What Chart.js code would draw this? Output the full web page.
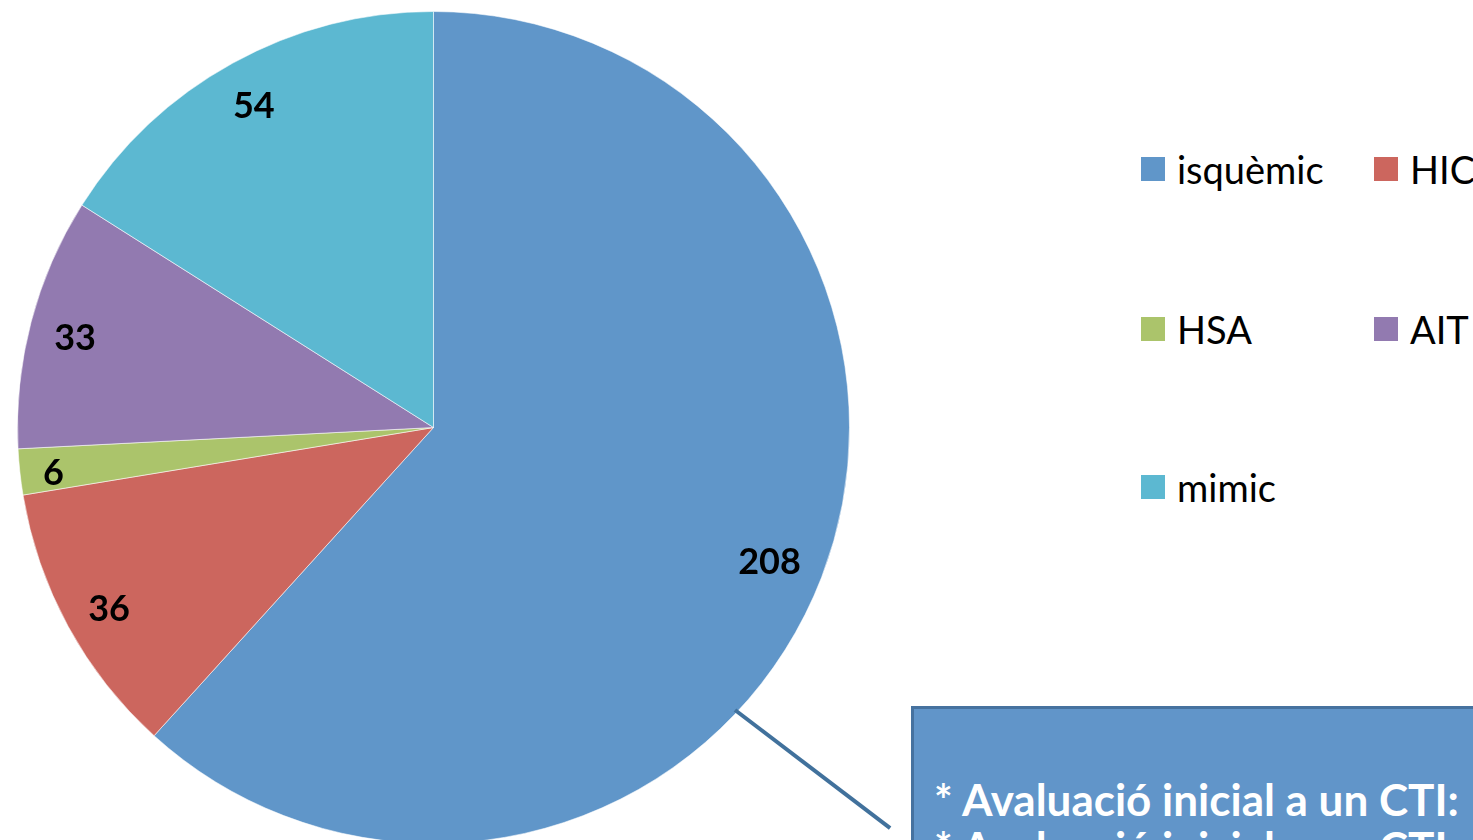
<!DOCTYPE html>
<html>
<head>
<meta charset="utf-8">
<script src="https://cdn.jsdelivr.net/npm/chart.js@4.4.1/dist/chart.umd.min.js"></script>
<style>
  html, body { margin: 0; padding: 0; width: 1473px; height: 840px; overflow: hidden; background: #fff; }
  #pieWrap { position: absolute; left: 17px; top: 11px; width: 833px; height: 833px; }
  #legend { position: absolute; left: 0; top: 0; font-family: Lato, "Open Sans", sans-serif; font-size: 38px; color: #000; }
  .item { position: absolute; display: flex; align-items: center; white-space: nowrap; }
  .item span.box { width: 24px; height: 24px; margin-right: 12px; }
  #connector { position: absolute; left: 735px; top: 708px; width: 195px; height: 4px; background: #41719C; transform-origin: 0 50%; transform: rotate(37.3deg); }
  #callout { position: absolute; left: 911px; top: 706px; width: 620px; height: 200px; background: #6195C9; border: 3px solid #46729F; box-sizing: border-box;
             color: #fff; font-family: Lato, "Open Sans", sans-serif; font-weight: bold; font-size: 44px; line-height: 48px; padding: 66px 0 0 20px; white-space: nowrap; }
</style>
</head>
<body>
<div id="pieWrap"><canvas id="pieChart"></canvas></div>
<div id="legend"></div>
<div id="connector"></div>
<div id="callout">* Avaluació inicial a un CTI:<br>* Avaluació inicial a un CTI</div>
<script>
// data
const categories = ["isquèmic", "HIC", "HSA", "AIT", "mimic"];
const counts = [208, 36, 6, 33, 54];
const colors = ["#6096C9", "#CC665E", "#ABC46B", "#927AB0", "#5CB8D1"];

// legend layout: two columns, three rows
const legendCols = [1141, 1374];
const legendRows = [169, 329, 487];

const legendEl = document.getElementById("legend");
categories.forEach((name, i) => {
    const div = document.createElement("div");
    div.className = "item";
    div.style.left = legendCols[i % 2] + "px";
    div.style.top = (legendRows[Math.floor(i / 2)] - 24) + "px";
    div.style.height = "48px";
    div.innerHTML = '<span class="box" style="background:' + colors[i] + '"></span>' + name;
    legendEl.appendChild(div);
});

// value labels drawn near the outer edge of each slice
const valueLabels = {
    id: "valueLabels",
    afterDatasetsDraw(chart) {
        const ctx = chart.ctx;
        const meta = chart.getDatasetMeta(0);
        ctx.save();
        ctx.font = "bold 36px Lato, 'Open Sans', sans-serif";
        ctx.fillStyle = "#000";
        ctx.textAlign = "center";
        ctx.textBaseline = "middle";
        meta.data.forEach((arc, i) => {
            const text = String(chart.data.datasets[0].data[i]);
            const w = ctx.measureText(text).width;
            const h = 26;
            const mid = (arc.startAngle + arc.endAngle) / 2;
            const c = Math.cos(mid), s = Math.sin(mid);
            const proj = Math.abs(c) * w / 2 + Math.abs(s) * h / 2;
            const dist = arc.outerRadius - 22 - proj;
            ctx.fillText(text, arc.x + c * dist, arc.y + s * dist + 5);
        });
        ctx.restore();
    }
};

const ctx = document.getElementById("pieChart").getContext("2d");
new Chart(ctx, {
    type: "pie",
    data: {
        labels: categories,
        datasets: [{
            data: counts,
            backgroundColor: colors,
            borderColor: "rgba(255,255,255,0.55)",
            borderWidth: 1,
        }],
    },
    options: {
        responsive: true,
        maintainAspectRatio: false,
        animation: false,
        layout: { padding: 0 },
        plugins: {
            legend: { display: false },
            tooltip: { enabled: false },
        },
    },
    plugins: [valueLabels],
});
</script>
</body>
</html>
